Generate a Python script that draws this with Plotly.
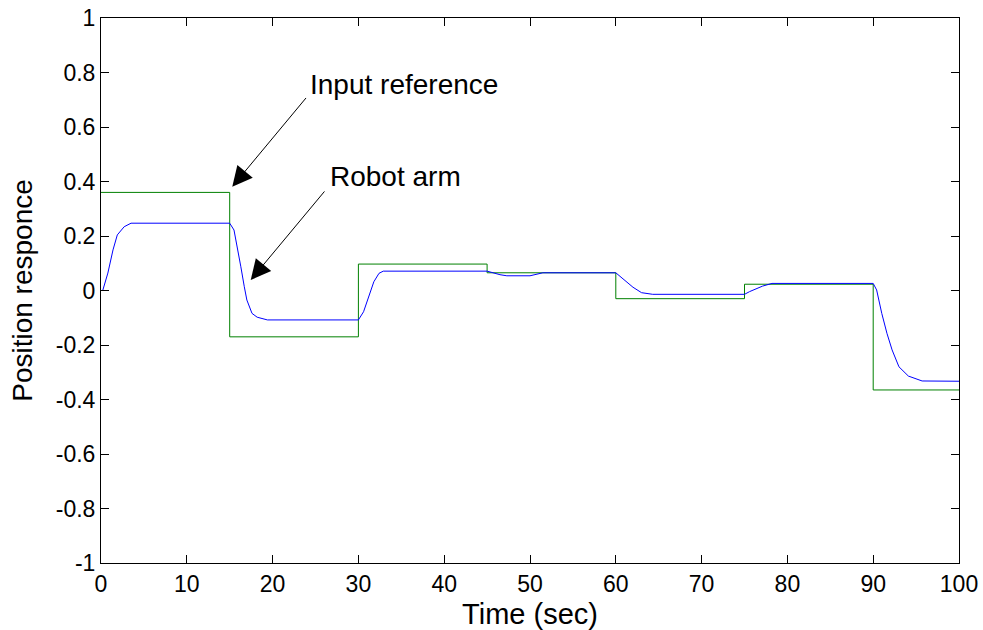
import plotly.graph_objects as go

# Input reference (step signal)
ref_time = [0, 15, 30, 45, 60, 75, 90, 100]
ref_value = [0.36, -0.17, 0.097, 0.065, -0.03, 0.023, -0.365, -0.365]

# Robot arm response
arm_time = [0, 0.2, 0.8, 1.4, 1.9, 2.7, 3.5, 15.0, 15.5, 15.9, 16.3, 16.7, 17.0, 17.6, 18.2,
            19.4, 30.0, 30.6, 31.0, 31.4, 31.8, 32.4, 32.9, 45.0, 45.7, 46.5, 47.3, 50.0, 51.5,
            60.0, 62.0, 63.0, 64.3, 75.0, 75.6, 77.1, 78.2, 90.0, 90.4, 91.0, 91.6, 92.2, 93.0,
            94.1, 95.7, 100.0]
arm_value = [0, 0.0, 0.064, 0.149, 0.204, 0.234, 0.247, 0.247, 0.222, 0.161, 0.087, 0.014, -0.035,
             -0.084, -0.098, -0.108, -0.108, -0.078, -0.041, 0.002, 0.032, 0.063, 0.071, 0.071,
             0.065, 0.058, 0.054, 0.054, 0.065, 0.065, 0.012, -0.008, -0.014, -0.014, -0.004,
             0.016, 0.026, 0.026, 0.002, -0.084, -0.157, -0.218, -0.28, -0.314, -0.332, -0.333]

x_tick_vals = [0, 10, 20, 30, 40, 50, 60, 70, 80, 90, 100]
x_tick_text = ["0", "10", "20", "30", "40", "50", "60", "70", "80", "90", "100"]
y_tick_vals = [-1, -0.8, -0.6, -0.4, -0.2, 0, 0.2, 0.4, 0.6, 0.8, 1]
y_tick_text = ["-1", "-0.8", "-0.6", "-0.4", "-0.2", "0", "0.2", "0.4", "0.6", "0.8", "1"]

# Annotation texts and arrow anchors (data coords)
labels = ["Input reference", "Robot arm"]
label_x = [35.26, 34.3]
label_y = [0.755, 0.418]
arrow_tip_x = [15.30, 17.45]
arrow_tip_y = [0.381, 0.0386]
arrow_tail_x = [24.04, 26.19]
arrow_tail_y = [0.712, 0.369]

FONT = "Liberation Sans, Arial, sans-serif"

fig = go.Figure()
fig.add_trace(go.Scatter(x=ref_time, y=ref_value, mode="lines", line_shape="hv",
                         line=dict(color="#008000", width=1), showlegend=False))
fig.add_trace(go.Scatter(x=arm_time, y=arm_value, mode="lines",
                         line=dict(color="#0000FF", width=1), showlegend=False))

for i in range(len(labels)):
    fig.add_annotation(x=label_x[i], y=label_y[i], xref="x", yref="y", text=labels[i],
                       showarrow=False, font=dict(family=FONT, size=28, color="black"))
    fig.add_annotation(x=arrow_tip_x[i], y=arrow_tip_y[i], ax=arrow_tail_x[i], ay=arrow_tail_y[i],
                       xref="x", yref="y", axref="x", ayref="y", text="", showarrow=True,
                       arrowhead=2, arrowsize=4, arrowwidth=1, arrowcolor="black", standoff=0)

axis_common = dict(showline=True, linecolor="black", linewidth=1, mirror="ticks",
                   ticks="inside", ticklen=8, tickcolor="black", showgrid=False,
                   zeroline=False, automargin=False, ticklabeloverflow="allow",
                   tickfont=dict(family=FONT, size=23, color="black"))

fig.update_xaxes(range=[0, 100], tickvals=x_tick_vals, ticktext=x_tick_text,
                 title=dict(text="Time (sec)", font=dict(family=FONT, size=29, color="black"),
                            standoff=8), **axis_common)
fig.update_yaxes(range=[-1, 1], tickvals=y_tick_vals, ticktext=y_tick_text,
                 title=dict(text="Position responce", font=dict(family=FONT, size=28, color="black"),
                            standoff=14), **axis_common)

fig.update_layout(width=983, height=630, plot_bgcolor="white", paper_bgcolor="white",
                  margin=dict(l=101, r=24, t=18, b=67), font=dict(family=FONT))

fig.write_html("out.html", config={"displayModeBar": False},
               post_script="document.body.style.margin='0';document.body.style.overflow='hidden';")
